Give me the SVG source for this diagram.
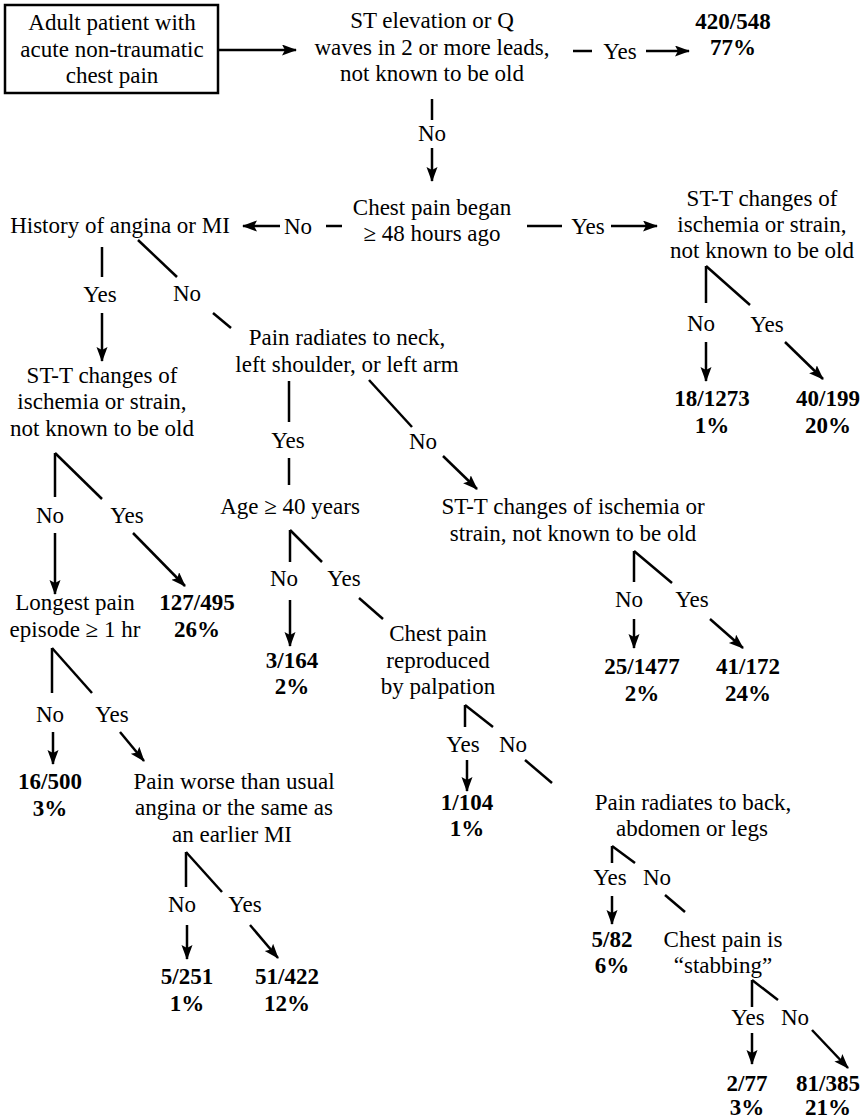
<svg xmlns="http://www.w3.org/2000/svg" width="865" height="1120" viewBox="0 0 865 1120">
  <style>
    text { font-family: "Liberation Serif", "Times New Roman", serif; font-size: 23px; fill: #000; text-anchor: middle; }
    .num { font-weight: bold; }
    .ln { stroke: #000; stroke-width: 2.5; fill: none; }
    .arr { stroke: #000; stroke-width: 2.5; fill: none; marker-end: url(#head); }
    .box { stroke: #000; stroke-width: 2.5; fill: #fff; }
  </style>
  <defs>
    <marker id="head" markerUnits="userSpaceOnUse" markerWidth="16" markerHeight="12" refX="14" refY="5.5" orient="auto">
      <path d="M0,0 L15,5.5 L0,11 L3,5.5 z" fill="#000"/>
    </marker>
  </defs>
  <rect width="865" height="1120" fill="#fff"/>

  <!-- connectors and branch labels -->
  <g id="connectors">
    <!-- start to first test -->
    <line class="arr" x1="218" y1="50" x2="296" y2="50"/>
    <!-- ST elevation: yes -->
    <line class="ln" x1="573" y1="51" x2="592" y2="51"/>
    <text x="620" y="59">Yes</text>
    <line class="arr" x1="646" y1="51" x2="689" y2="51"/>
    <!-- ST elevation: no -->
    <line class="ln" x1="432" y1="99" x2="432" y2="120"/>
    <text x="432" y="141">No</text>
    <line class="arr" x1="432" y1="148" x2="432" y2="181"/>
    <!-- onset: no -->
    <line class="ln" x1="326" y1="226" x2="342" y2="226"/>
    <text x="298" y="234">No</text>
    <line class="arr" x1="280" y1="226" x2="243" y2="226"/>
    <!-- onset: yes -->
    <line class="ln" x1="527" y1="226" x2="562" y2="226"/>
    <text x="588" y="234">Yes</text>
    <line class="arr" x1="611" y1="226" x2="657" y2="226"/>
    <!-- right ST-T fork -->
    <line class="ln" x1="706" y1="266" x2="706" y2="303"/>
    <line class="ln" x1="706" y1="266" x2="750" y2="305"/>
    <text x="701" y="331">No</text>
    <text x="767" y="332">Yes</text>
    <line class="arr" x1="706" y1="342" x2="706" y2="381"/>
    <line class="arr" x1="785" y1="342" x2="823" y2="379"/>
    <!-- history fork -->
    <line class="ln" x1="102" y1="247" x2="102" y2="277"/>
    <line class="ln" x1="138" y1="240" x2="177" y2="277"/>
    <text x="100" y="302">Yes</text>
    <text x="187" y="301">No</text>
    <line class="arr" x1="102" y1="313" x2="102" y2="361"/>
    <line class="ln" x1="213" y1="313" x2="231" y2="328"/>
    <!-- left ST-T fork -->
    <line class="ln" x1="55" y1="453" x2="55" y2="497"/>
    <line class="ln" x1="55" y1="453" x2="102" y2="499"/>
    <text x="50" y="523">No</text>
    <text x="127" y="523">Yes</text>
    <line class="arr" x1="55" y1="533" x2="55" y2="594"/>
    <line class="arr" x1="133" y1="533" x2="185" y2="586"/>
    <!-- longest pain fork -->
    <line class="ln" x1="52" y1="648" x2="52" y2="693"/>
    <line class="ln" x1="52" y1="648" x2="92" y2="693"/>
    <text x="50" y="722">No</text>
    <text x="112" y="722">Yes</text>
    <line class="arr" x1="53" y1="732" x2="53" y2="764"/>
    <line class="arr" x1="120" y1="732" x2="144" y2="761"/>
    <!-- worse-than-usual fork -->
    <line class="ln" x1="186" y1="852" x2="186" y2="887"/>
    <line class="ln" x1="186" y1="852" x2="222" y2="892"/>
    <text x="182" y="912">No</text>
    <text x="245" y="912">Yes</text>
    <line class="arr" x1="187" y1="925" x2="187" y2="959"/>
    <line class="arr" x1="250" y1="925" x2="278" y2="958"/>
    <!-- radiation fork -->
    <line class="ln" x1="289" y1="381" x2="289" y2="422"/>
    <text x="288" y="448">Yes</text>
    <line class="ln" x1="289" y1="458" x2="289" y2="485"/>
    <line class="ln" x1="369" y1="380" x2="412" y2="427"/>
    <text x="423" y="449">No</text>
    <line class="arr" x1="443" y1="456" x2="477" y2="489"/>
    <!-- age fork -->
    <line class="ln" x1="290" y1="530" x2="290" y2="562"/>
    <line class="ln" x1="290" y1="530" x2="322" y2="562"/>
    <text x="284" y="586">No</text>
    <text x="344" y="586">Yes</text>
    <line class="arr" x1="290" y1="600" x2="290" y2="646"/>
    <line class="ln" x1="359" y1="598" x2="383" y2="619"/>
    <!-- middle ST-T fork -->
    <line class="ln" x1="634" y1="551" x2="634" y2="582"/>
    <line class="ln" x1="634" y1="551" x2="672" y2="583"/>
    <text x="629" y="607">No</text>
    <text x="692" y="607">Yes</text>
    <line class="arr" x1="634" y1="619" x2="634" y2="648"/>
    <line class="arr" x1="710" y1="619" x2="743" y2="648"/>
    <!-- palpation fork -->
    <line class="ln" x1="465" y1="705" x2="465" y2="727"/>
    <line class="ln" x1="465" y1="705" x2="493" y2="727"/>
    <text x="463" y="752">Yes</text>
    <text x="513" y="752">No</text>
    <line class="arr" x1="467" y1="760" x2="467" y2="791"/>
    <line class="ln" x1="525" y1="760" x2="552" y2="783"/>
    <!-- back/abdomen fork -->
    <line class="ln" x1="612" y1="846" x2="612" y2="863"/>
    <line class="ln" x1="612" y1="846" x2="635" y2="863"/>
    <text x="610" y="885">Yes</text>
    <text x="657" y="885">No</text>
    <line class="arr" x1="612" y1="896" x2="612" y2="924"/>
    <line class="ln" x1="665" y1="895" x2="685" y2="912"/>
    <!-- stabbing fork -->
    <line class="ln" x1="752" y1="980" x2="752" y2="1007"/>
    <line class="ln" x1="752" y1="980" x2="778" y2="1000"/>
    <text x="748" y="1025">Yes</text>
    <text x="795" y="1025">No</text>
    <line class="arr" x1="752" y1="1033" x2="752" y2="1064"/>
    <line class="arr" x1="812" y1="1030" x2="848" y2="1068"/>
  </g>

  <g id="n-start">
    <rect class="box" x="5" y="5" width="213" height="88"/>
    <text x="112" y="30">Adult patient with</text>
    <text x="112" y="57">acute non-traumatic</text>
    <text x="112" y="83">chest pain</text>
  </g>
  <g id="n-st-elevation">
    <text x="432" y="28">ST elevation or Q</text>
    <text x="432" y="55">waves in 2 or more leads,</text>
    <text x="432" y="81">not known to be old</text>
  </g>
  <g id="r-420-548">
    <text class="num" x="733" y="29">420/548</text>
    <text class="num" x="733" y="55">77%</text>
  </g>
  <g id="n-onset">
    <text x="432" y="215">Chest pain began</text>
    <text x="432" y="241">≥ 48 hours ago</text>
  </g>
  <g id="n-history">
    <text x="120" y="233">History of angina or MI</text>
  </g>
  <g id="n-stt-right">
    <text x="762" y="206">ST-T changes of</text>
    <text x="762" y="232">ischemia or strain,</text>
    <text x="762" y="258">not known to be old</text>
  </g>
  <g id="r-18-1273">
    <text class="num" x="712" y="406">18/1273</text>
    <text class="num" x="712" y="433">1%</text>
  </g>
  <g id="r-40-199">
    <text class="num" x="828" y="406">40/199</text>
    <text class="num" x="828" y="433">20%</text>
  </g>
  <g id="n-radiate">
    <text x="347" y="345">Pain radiates to neck,</text>
    <text x="347" y="372">left shoulder, or left arm</text>
  </g>
  <g id="n-stt-left">
    <text x="102" y="383">ST-T changes of</text>
    <text x="102" y="409">ischemia or strain,</text>
    <text x="102" y="436">not known to be old</text>
  </g>
  <g id="n-age">
    <text x="290" y="514">Age ≥ 40 years</text>
  </g>
  <g id="n-stt-mid">
    <text x="573" y="514">ST-T changes of ischemia or</text>
    <text x="573" y="541">strain, not known to be old</text>
  </g>
  <g id="n-longest">
    <text x="75" y="610">Longest pain</text>
    <text x="75" y="637">episode ≥ 1 hr</text>
  </g>
  <g id="r-127-495">
    <text class="num" x="197" y="610">127/495</text>
    <text class="num" x="197" y="637">26%</text>
  </g>
  <g id="r-3-164">
    <text class="num" x="292" y="668">3/164</text>
    <text class="num" x="292" y="694">2%</text>
  </g>
  <g id="n-palpation">
    <text x="438" y="641">Chest pain</text>
    <text x="438" y="668">reproduced</text>
    <text x="438" y="694">by palpation</text>
  </g>
  <g id="r-25-1477">
    <text class="num" x="642" y="674">25/1477</text>
    <text class="num" x="642" y="701">2%</text>
  </g>
  <g id="r-41-172">
    <text class="num" x="748" y="674">41/172</text>
    <text class="num" x="748" y="701">24%</text>
  </g>
  <g id="r-16-500">
    <text class="num" x="50" y="789">16/500</text>
    <text class="num" x="50" y="816">3%</text>
  </g>
  <g id="n-worse">
    <text x="234" y="789">Pain worse than usual</text>
    <text x="234" y="815">angina or the same as</text>
    <text x="232" y="842">an earlier MI</text>
  </g>
  <g id="r-1-104">
    <text class="num" x="467" y="810">1/104</text>
    <text class="num" x="467" y="836">1%</text>
  </g>
  <g id="n-back">
    <text x="693" y="810">Pain radiates to back,</text>
    <text x="692" y="836">abdomen or legs</text>
  </g>
  <g id="r-5-251">
    <text class="num" x="187" y="984">5/251</text>
    <text class="num" x="187" y="1011">1%</text>
  </g>
  <g id="r-51-422">
    <text class="num" x="287" y="984">51/422</text>
    <text class="num" x="287" y="1011">12%</text>
  </g>
  <g id="r-5-82">
    <text class="num" x="612" y="947">5/82</text>
    <text class="num" x="612" y="973">6%</text>
  </g>
  <g id="n-stabbing">
    <text x="723" y="947">Chest pain is</text>
    <text x="723" y="973">“stabbing”</text>
  </g>
  <g id="r-2-77">
    <text class="num" x="747" y="1091">2/77</text>
    <text class="num" x="747" y="1115">3%</text>
  </g>
  <g id="r-81-385">
    <text class="num" x="828" y="1091">81/385</text>
    <text class="num" x="828" y="1115">21%</text>
  </g>
</svg>
